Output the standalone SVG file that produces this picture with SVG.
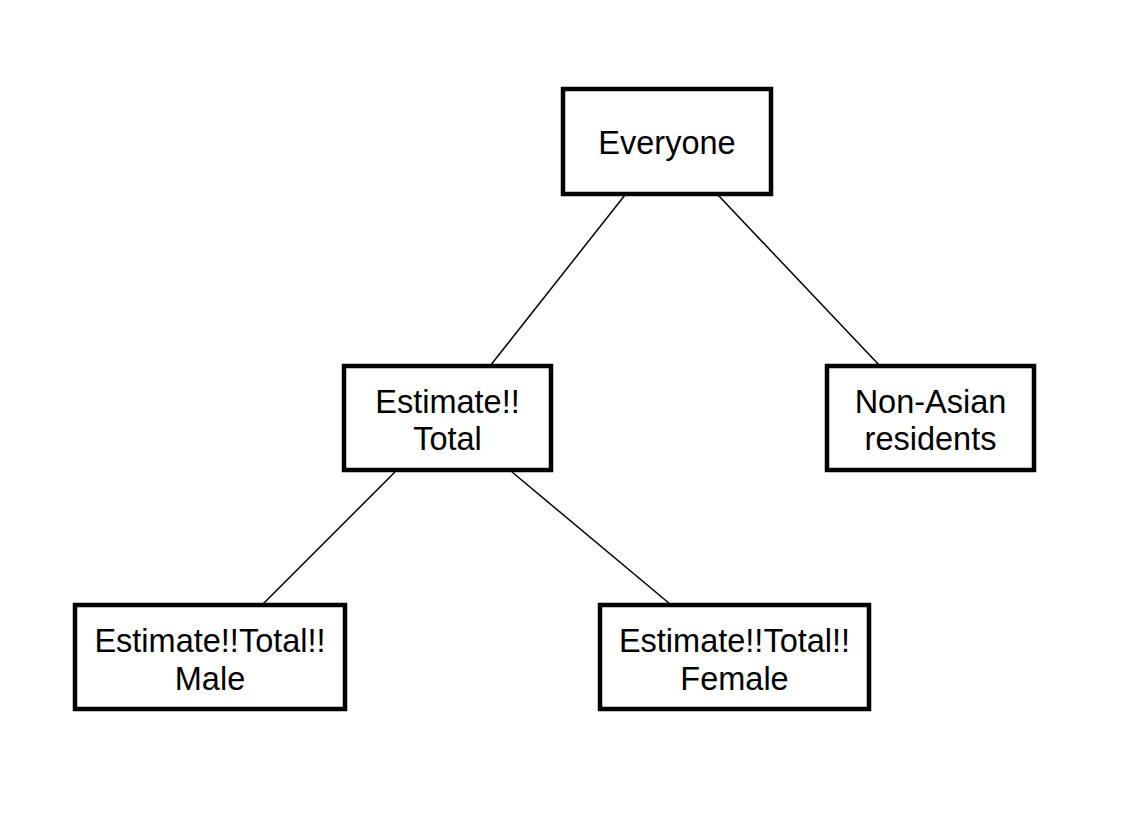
<svg xmlns="http://www.w3.org/2000/svg" width="1143" height="829" viewBox="0 0 1143 829">
<style>
.box{fill:#fff;stroke:#000;stroke-width:4.5}
.lbl{font-family:"Liberation Sans",Arial,sans-serif;font-size:32.5px;fill:#000;text-anchor:middle}
.edge{stroke:#000;stroke-width:1.5;fill:none}
</style>
<rect width="1143" height="829" fill="#fff"/>
<g id="connectors">
<line class="edge" x1="625" y1="195" x2="490" y2="366"/>
<line class="edge" x1="718" y1="195" x2="880" y2="366"/>
<line class="edge" x1="395" y1="472" x2="263" y2="604"/>
<line class="edge" x1="512" y1="472" x2="670" y2="604"/>
</g>
<g id="everyone">
<rect class="box" x="563" y="89" width="208" height="105"/>
<text class="lbl" x="667" y="154">Everyone</text>
</g>
<g id="estimate-total">
<rect class="box" x="344" y="366" width="207" height="104"/>
<text class="lbl" x="447.5" y="413">Estimate!!</text>
<text class="lbl" x="447.5" y="450">Total</text>
</g>
<g id="non-asian">
<rect class="box" x="827" y="366" width="207" height="104"/>
<text class="lbl" x="930.5" y="413">Non-Asian</text>
<text class="lbl" x="930.5" y="450">residents</text>
</g>
<g id="male">
<rect class="box" x="75" y="605" width="270" height="104"/>
<text class="lbl" x="210" y="652">Estimate!!Total!!</text>
<text class="lbl" x="210" y="690">Male</text>
</g>
<g id="female">
<rect class="box" x="600" y="605" width="269" height="104"/>
<text class="lbl" x="734.5" y="652">Estimate!!Total!!</text>
<text class="lbl" x="734.5" y="690">Female</text>
</g>
</svg>
